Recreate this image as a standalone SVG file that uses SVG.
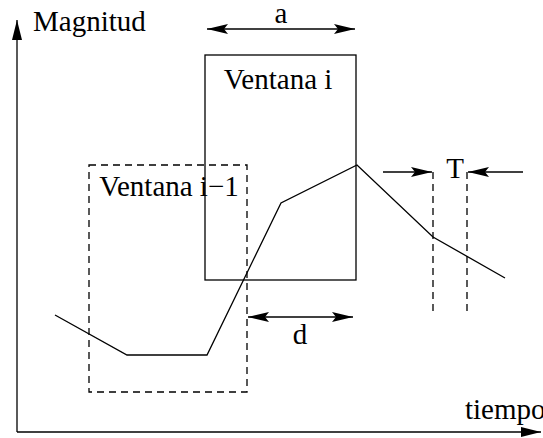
<svg xmlns="http://www.w3.org/2000/svg" width="543" height="438" viewBox="0 0 543 438">
<style>
.ln{fill:none;stroke:#000;stroke-width:1.3}
.ds{fill:none;stroke:#000;stroke-width:1.3;stroke-dasharray:7 5}
text{font-family:'Liberation Serif','Times New Roman','DejaVu Serif',serif;font-size:29px;fill:#000}
</style>
<defs>
<marker id="ah" markerWidth="22" markerHeight="12" refX="21" refY="5.5" orient="auto-start-reverse" markerUnits="userSpaceOnUse">
<path d="M0,0.5 L21,5.5 L0,10.5 L4,5.5 Z" fill="#000"/>
</marker>
<marker id="ax" markerWidth="22" markerHeight="12" refX="20" refY="5.5" orient="auto" markerUnits="userSpaceOnUse">
<path d="M0,0.5 L20,5.5 L0,10.5 Z" fill="#000"/>
</marker>
</defs>
<g id="axes">
<line class="ln" x1="17" y1="432" x2="17" y2="20" marker-end="url(#ax)"/>
<line class="ln" x1="17" y1="432" x2="541" y2="432" marker-end="url(#ax)"/>
<text x="33" y="31">Magnitud</text>
<text x="465" y="419">tiempo</text>
</g>
<g id="ventana-i">
<rect class="ln" x="205" y="55" width="151" height="225"/>
<text x="278" y="89" text-anchor="middle">Ventana i</text>
</g>
<g id="ventana-i-1">
<rect class="ds" x="89" y="165" width="158" height="227"/>
<text x="169" y="196" text-anchor="middle">Ventana i−1</text>
</g>
<g id="signal">
<polyline class="ln" points="55,315 127,355 207,355 281,203 357,165 433,237 505,278"/>
</g>
<g id="period-lines">
<line class="ds" x1="433" y1="172" x2="433" y2="316"/>
<line class="ds" x1="467" y1="172" x2="467" y2="316"/>
</g>
<g id="connectors">
<line class="ln" x1="207" y1="29" x2="355" y2="29" marker-start="url(#ah)" marker-end="url(#ah)"/>
<line class="ln" x1="248" y1="317" x2="353" y2="317" marker-start="url(#ah)" marker-end="url(#ah)"/>
<line class="ln" x1="383" y1="172" x2="432" y2="172" marker-end="url(#ah)"/>
<line class="ln" x1="523" y1="172" x2="468" y2="172" marker-end="url(#ah)"/>
</g>
<g id="labels">
<text x="281" y="23" text-anchor="middle">a</text>
<text x="300" y="344" text-anchor="middle">d</text>
<text x="455" y="178" text-anchor="middle">T</text>
</g>
</svg>
